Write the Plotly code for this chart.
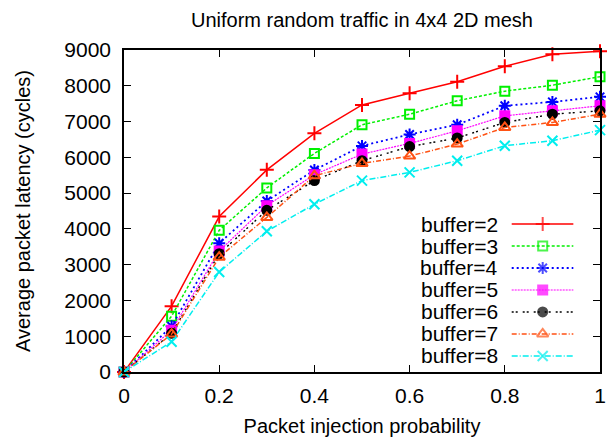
import plotly.graph_objects as go

x_vals = [0, 0.1, 0.2, 0.3, 0.4, 0.5, 0.6, 0.7, 0.8, 0.9, 1.0]

buffer2 = [0, 1840, 4345, 5650, 6670, 7465, 7790, 8115, 8545, 8880, 8965]
buffer3 = [0, 1560, 3960, 5145, 6110, 6910, 7205, 7580, 7850, 8015, 8255]
buffer4 = [0, 1280, 3600, 4780, 5645, 6320, 6640, 6910, 7440, 7550, 7690]
buffer5 = [0, 1170, 3380, 4650, 5515, 6090, 6390, 6740, 7160, 7300, 7440]
buffer6 = [0, 1080, 3305, 4520, 5350, 5905, 6300, 6540, 6975, 7205, 7300]
buffer7 = [0, 1060, 3210, 4320, 5485, 5830, 6035, 6370, 6835, 6975, 7205]
buffer8 = [0, 845, 2795, 3935, 4690, 5350, 5580, 5905, 6325, 6465, 6760]

series_names = ["buffer=2", "buffer=3", "buffer=4", "buffer=5", "buffer=6", "buffer=7", "buffer=8"]
series_data = [buffer2, buffer3, buffer4, buffer5, buffer6, buffer7, buffer8]

x_ticks = [0, 0.2, 0.4, 0.6, 0.8, 1]
x_tick_labels = ["0", "0.2", "0.4", "0.6", "0.8", "1"]
y_ticks = [0, 1000, 2000, 3000, 4000, 5000, 6000, 7000, 8000, 9000]

title_text = "Uniform random traffic in 4x4 2D mesh"
x_title = "Packet injection probability"
y_title = "Average packet latency (cycles)"

styles = [
    dict(color="#ff0000", dash="solid", symbol="cross-thin-open", size=10, lw=1.5),
    dict(color="#00f000", dash="3px,2px", symbol="square-open", size=9, lw=1.5),
    dict(color="#0000ff", dash="2px,3px", symbol="asterisk-open", size=10, lw=1.8),
    dict(color="#ff00ff", dash="2px,1px", symbol="square", size=9, lw=1.2),
    dict(color="#000000", dash="2px,2px,2px,5px", symbol="circle", size=9, lw=1.4),
    dict(color="#ff5214", dash="5px,2px,1px,2px", symbol="triangle-up-open", size=10, lw=1.5),
    dict(color="#00eeee", dash="6px,2px,1px,2px", symbol="x-thin-open", size=10, lw=1.5),
]

FONT = "Liberation Sans, Arial, Helvetica, sans-serif"
FS = 21

fig = go.Figure()

for name, ys, st in zip(series_names, series_data, styles):
    fig.add_trace(go.Scatter(
        x=x_vals, y=ys, name=name, mode="lines+markers",
        line=dict(color=st["color"], dash=st["dash"], width=st["lw"]),
        marker=dict(symbol=st["symbol"], size=st["size"], color=st["color"],
                    line=dict(color=st["color"], width=2)),
        cliponaxis=False, showlegend=False,
    ))

# gnuplot-style key: text right-aligned, sample line with marker on the right
key_top = 0.4596
key_step = 0.0683
key_x0, key_xm, key_x1 = 0.8145, 0.8796, 0.944
key_text_x = 0.789
for i, (name, st) in enumerate(zip(series_names, styles)):
    yk = key_top - i * key_step
    fig.add_trace(go.Scatter(
        x=[key_x0, key_xm, key_x1], y=[yk, yk, yk], mode="lines+markers",
        xaxis="x2", yaxis="y2",
        line=dict(color=st["color"], dash=st["dash"], width=st["lw"]),
        marker=dict(symbol=st["symbol"], size=[0, st["size"], 0], color=st["color"],
                    line=dict(color=st["color"], width=2)),
        cliponaxis=False, showlegend=False, hoverinfo="skip",
    ))
    fig.add_annotation(x=key_text_x, y=yk, xref="paper", yref="paper",
                       text=name, showarrow=False, xanchor="right", yanchor="middle",
                       font=dict(family=FONT, size=FS, color="black"))

axis_common = dict(
    showgrid=False, zeroline=False, showline=True, linecolor="black", linewidth=1.5,
    mirror="ticks", ticks="inside", ticklen=7, tickwidth=1, tickcolor="black",
    tickfont=dict(family=FONT, size=FS, color="black"),
    automargin=False,
)

fig.update_layout(
    width=611, height=441,
    margin=dict(l=124, r=11, t=50, b=69),
    paper_bgcolor="white", plot_bgcolor="white",
    title=dict(text=title_text, x=0.5, xref="paper", y=0.955, yanchor="middle",
               font=dict(family=FONT, size=FS - 1, color="black")),
    xaxis=dict(range=[0, 1], tickvals=x_ticks, ticktext=x_tick_labels,
               ticklabelstandoff=4,
               title=dict(text=x_title, font=dict(family=FONT, size=FS - 1, color="black"), standoff=13),
               **axis_common),
    yaxis=dict(range=[0, 9000], tickvals=y_ticks,
               ticklabelstandoff=7,
               title=dict(text=y_title, font=dict(family=FONT, size=FS - 1, color="black"), standoff=28),
               **axis_common),
    xaxis2=dict(range=[0, 1], overlaying="x", visible=False),
    yaxis2=dict(range=[0, 1], overlaying="y", visible=False),
    showlegend=False,
)

fig.write_html("out.html", config={"displayModeBar": False},
               post_script="document.body.style.margin='0';")
